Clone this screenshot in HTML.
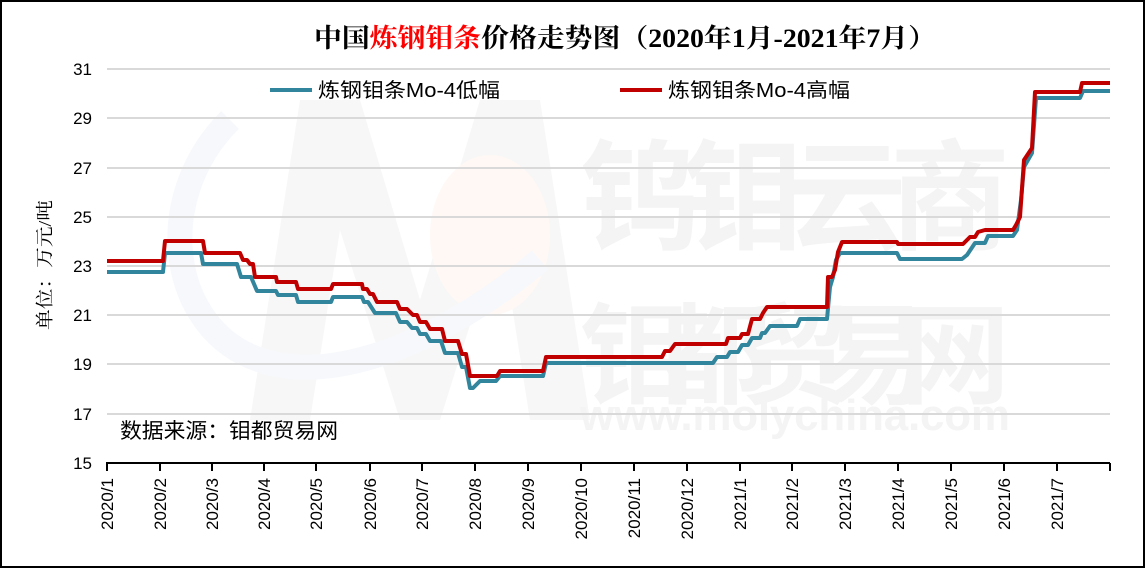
<!DOCTYPE html>
<html><head><meta charset="utf-8"><style>
html,body{margin:0;padding:0;background:#fff}
svg{display:block}
text{font-family:"Liberation Sans","Noto Sans CJK SC",sans-serif}
</style></head><body>
<svg width="1145" height="568" viewBox="0 0 1145 568" xmlns="http://www.w3.org/2000/svg">
<rect x="1" y="1" width="1143" height="566" fill="#fff" stroke="#000" stroke-width="2"/>
<!-- watermark -->
<path d="M250 420 L300 100 L360 100 L420 300 L480 100 L540 100 L590 420 L530 420 L500 230 L440 420 L400 420 L340 230 L310 420Z" fill="#f7f7f7"/>
<ellipse cx="490" cy="235" rx="60" ry="80" fill="#fff8f5"/>
<path d="M230 120 C150 200 170 330 260 360 C350 390 470 320 540 260" fill="none" stroke="#f6f8fc" stroke-width="25"/>
<g fill="#f4f4f4" font-weight="bold">
<text x="580" y="240" font-size="120" style="font-family:'Noto Sans CJK SC',sans-serif" textLength="430">钨钼云商</text>
<text x="580" y="395" font-size="110" style="font-family:'Noto Sans CJK SC',sans-serif" textLength="430">钼都贸易网</text>
<text x="580" y="430" font-size="44" textLength="430">www.molychina.com</text>
</g>
<!-- grid -->
<g stroke="#d9d9d9" stroke-width="2">
<line x1="107" y1="69" x2="1110" y2="69"/><line x1="107" y1="118" x2="1110" y2="118"/>
<line x1="107" y1="168" x2="1110" y2="168"/><line x1="107" y1="217" x2="1110" y2="217"/>
<line x1="107" y1="266" x2="1110" y2="266"/><line x1="107" y1="315" x2="1110" y2="315"/>
<line x1="107" y1="364" x2="1110" y2="364"/><line x1="107" y1="414" x2="1110" y2="414"/>
</g>
<g font-size="17" text-anchor="end" fill="#000">
<text x="92" y="75">31</text><text x="92" y="124">29</text><text x="92" y="174">27</text>
<text x="92" y="223">25</text><text x="92" y="272">23</text><text x="92" y="321">21</text>
<text x="92" y="370">19</text><text x="92" y="420">17</text><text x="92" y="469">15</text>
</g>
<!-- series -->
<polyline fill="none" stroke="#31859c" stroke-width="4" stroke-linejoin="round" points="107,272 163,272 165,253 201,253 203,264 237,264 241,277 251,277 257,291 276,291 278,295 296,295 298,302 331,302 333,297 362,297 364,302 368,302 375,313 396,313 400,322 407,322 412,328 417,328 420,334 426,334 430,341 441,341 445,353 458,353 462,367 466,367 470,388 473,388 480,381 496,381 500,376 543,376 546,363 713,363 717,357 727,357 730,352 738,352 742,345 748,345 752,338 760,338 762,333 765,333 770,326 797,326 800,319 827,319 830,287 833,277 836,260 840,253 897,253 900,259 962,259 967,255 975,243 985,243 988,236 1013,236 1017,230 1021,200 1024,167 1032,153 1036,98 1080,98 1083,91 1110,91"/>
<polyline fill="none" stroke="#c00000" stroke-width="4" stroke-linejoin="round" points="107,261 163,261 165,241 203,241 205,253 240,253 243,260 247,260 250,264 253,264 255,277 276,277 277,282 296,282 298,289 331,289 333,284 362,284 363,289 367,289 370,294 373,294 377,302 397,302 400,309 407,309 413,315 417,315 420,322 426,322 430,329 442,329 445,341 458,341 462,354 466,354 470,376 497,376 500,371 543,371 546,357 662,357 665,351 670,351 675,344 726,344 728,338 740,338 742,334 748,334 752,319 760,319 763,313 767,307 827,307 828,277 832,277 835,270 838,252 842,242 897,242 898,244 963,244 970,237 975,237 978,232 985,230 1013,230 1016,225 1020,217 1024,160 1032,148 1035,92 1080,92 1082,83 1110,83"/>
<!-- axis -->
<line x1="106" y1="463" x2="1110" y2="463" stroke="#000" stroke-width="2"/>
<g stroke="#000" stroke-width="2">
<line x1="107" y1="463" x2="107" y2="471"/><line x1="160" y1="463" x2="160" y2="471"/><line x1="212" y1="463" x2="212" y2="471"/><line x1="264" y1="463" x2="264" y2="471"/><line x1="316" y1="463" x2="316" y2="471"/><line x1="370" y1="463" x2="370" y2="471"/><line x1="422" y1="463" x2="422" y2="471"/><line x1="475" y1="463" x2="475" y2="471"/><line x1="528" y1="463" x2="528" y2="471"/><line x1="581" y1="463" x2="581" y2="471"/><line x1="634" y1="463" x2="634" y2="471"/><line x1="687" y1="463" x2="687" y2="471"/><line x1="740" y1="463" x2="740" y2="471"/><line x1="792" y1="463" x2="792" y2="471"/><line x1="845" y1="463" x2="845" y2="471"/><line x1="898" y1="463" x2="898" y2="471"/><line x1="951" y1="463" x2="951" y2="471"/><line x1="1004" y1="463" x2="1004" y2="471"/><line x1="1057" y1="463" x2="1057" y2="471"/><line x1="1110" y1="463" x2="1110" y2="471"/>
</g>
<g font-size="17" text-anchor="end" fill="#000">
<text transform="translate(113,478) rotate(-90)">2020/1</text>
<text transform="translate(166,478) rotate(-90)">2020/2</text>
<text transform="translate(218,478) rotate(-90)">2020/3</text>
<text transform="translate(270,478) rotate(-90)">2020/4</text>
<text transform="translate(322,478) rotate(-90)">2020/5</text>
<text transform="translate(376,478) rotate(-90)">2020/6</text>
<text transform="translate(428,478) rotate(-90)">2020/7</text>
<text transform="translate(481,478) rotate(-90)">2020/8</text>
<text transform="translate(534,478) rotate(-90)">2020/9</text>
<text transform="translate(587,478) rotate(-90)">2020/10</text>
<text transform="translate(640,478) rotate(-90)">2020/11</text>
<text transform="translate(693,478) rotate(-90)">2020/12</text>
<text transform="translate(746,478) rotate(-90)">2021/1</text>
<text transform="translate(798,478) rotate(-90)">2021/2</text>
<text transform="translate(851,478) rotate(-90)">2021/3</text>
<text transform="translate(904,478) rotate(-90)">2021/4</text>
<text transform="translate(957,478) rotate(-90)">2021/5</text>
<text transform="translate(1010,478) rotate(-90)">2021/6</text>
<text transform="translate(1063,478) rotate(-90)">2021/7</text>
</g>
<!-- title -->
<text x="314" y="47" font-size="26" textLength="622" lengthAdjust="spacingAndGlyphs" style="font-family:'Liberation Serif','Noto Serif CJK SC',serif" font-weight="bold">中国<tspan fill="#ff0000">炼钢钼条</tspan>价格走势图（2020年1月-2021年7月）</text>
<!-- legend -->
<line x1="270" y1="90" x2="312" y2="90" stroke="#31859c" stroke-width="4"/>
<text x="318" y="97" font-size="20" textLength="182" lengthAdjust="spacingAndGlyphs">炼钢钼条Mo-4低幅</text>
<line x1="620" y1="90" x2="662" y2="90" stroke="#c00000" stroke-width="4"/>
<text x="668" y="97" font-size="20" textLength="182" lengthAdjust="spacingAndGlyphs">炼钢钼条Mo-4高幅</text>
<text transform="translate(51,265) rotate(-90)" font-size="18" text-anchor="middle" textLength="130" lengthAdjust="spacingAndGlyphs" style="font-family:'Liberation Serif','Noto Serif CJK SC',serif">单位：万元/吨</text>
<text x="120" y="438" font-size="21" textLength="218" lengthAdjust="spacingAndGlyphs">数据来源：钼都贸易网</text>
</svg>
</body></html>
